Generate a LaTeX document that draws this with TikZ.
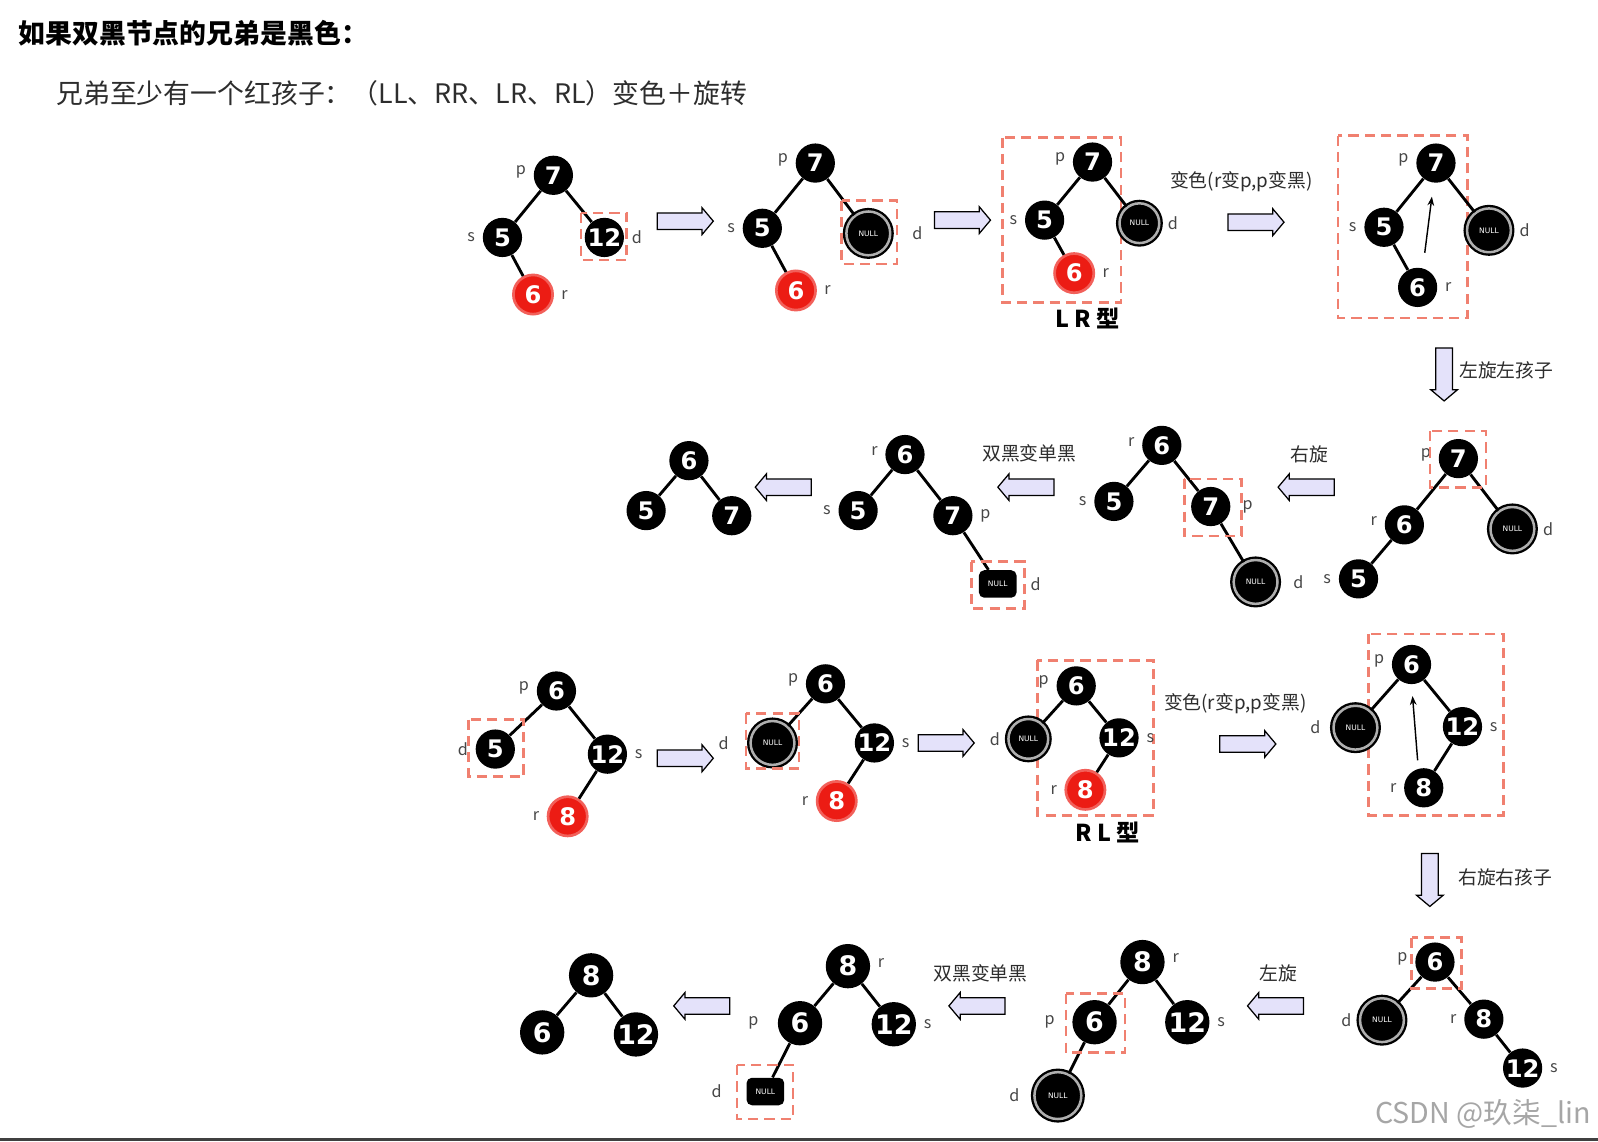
\documentclass[tikz,border=0pt]{standalone}
\usepackage{fontspec}
\setmainfont{Noto Sans CJK SC}
\newfontfamily\numfont{DejaVu Sans}
\usetikzlibrary{arrows.meta, shapes.arrows}
\definecolor{nodered}{RGB}{236,28,20}
\definecolor{boxred}{RGB}{240,128,112}
\definecolor{arrowfill}{RGB}{228,226,250}
\definecolor{labgray}{RGB}{70,70,70}
\definecolor{textgray}{RGB}{45,45,45}
\definecolor{nullring}{RGB}{175,175,175}

\tikzset{
  bn/.style={circle, fill=black, text=white, inner sep=0pt, minimum size=0.77cm,
    font=\numfont\bfseries\fontsize{13.5}{13.5}\selectfont},
  bigbn/.style={bn, minimum size=0.87cm, font=\numfont\bfseries\fontsize{15}{15}\selectfont},
  rn/.style={bn, fill=nodered, draw=nodered!70, line width=1.5pt},
  nulln/.style={circle, fill=black, draw=black, double=nullring, double distance=1.4pt,
    line width=1.3pt, inner sep=0pt, minimum size=0.86cm, text=white,
    font=\numfont\fontsize{4.2}{4.2}\selectfont},
  nullsq/.style={rectangle, rounded corners=3pt, fill=black, inner sep=0pt,
    minimum width=0.74cm, minimum height=0.54cm, text=white,
    font=\numfont\fontsize{4.2}{4.2}\selectfont},
  lab/.style={font=\fontsize{9}{9}\selectfont, text=labgray, inner sep=1.5pt, label distance=2.5pt},
  labup/.style={lab, yshift=2pt},
  edge/.style={line width=1.6pt},
  dbox/.style={draw=boxred, line width=1.5pt, dash pattern=on 0.2cm off 0.12cm},
  blkarrow/.style={single arrow, draw=black, fill=arrowfill, line width=0.7pt,
    minimum height=1.1cm, inner sep=0.15cm, single arrow head extend=0.1cm,
    single arrow tip angle=100},
  note/.style={font=\fontsize{10.5}{11}\selectfont, text=textgray},
}

\begin{document}
\begin{tikzpicture}[x=0.02cm, y=-0.02cm]
  \fill[white] (0,0) rectangle (1568,1120);
  \useasboundingbox (0,0) rectangle (1568,1120);

  \node[anchor=west, inner sep=0pt, font=\bfseries\fontsize{15}{16}\selectfont] (title) at (18,33) {如果双黑节点的兄弟是黑色：};
  \node[anchor=west, inner sep=0pt, text=textgray, font=\fontsize{15}{16}\selectfont] (subtitle) at (55,92) {兄弟至少有一个红孩子：（LL、RR、LR、RL）变色＋旋转};

  % LR case, start
  \node[bn, label={[labup]180:p}] (a7) at (543,172) {7};
  \node[bn, label={[lab]180:s}] (a5) at (493,233) {5};
  \node[rn, label={[lab]0:r}] (a6) at (523,289) {6};
  \node[bn, label={[lab]0:d}] (a12) at (593,233) {12};
  \draw[edge] (a7) -- (a5);
  \draw[edge] (a5) -- (a6);
  \draw[edge] (a7) -- (a12);
  \draw[dbox] (570,209) rectangle (615,255);
  \node[blkarrow] (ar1) at (669,217) {};

  % d deleted
  \node[bn, label={[labup]180:p}] (b7) at (800,160) {7};
  \node[bn, label={[lab]180:s}] (b5) at (748,224) {5};
  \node[rn, label={[lab]0:r}] (b6) at (781,285) {6};
  \node[nulln, label={[lab, label distance=10pt]0:d}] (bnl) at (852,229) {NULL};
  \draw[edge] (b7) -- (b5);
  \draw[edge] (b5) -- (b6);
  \draw[edge] (b7) -- (bnl);
  \draw[dbox] (826,197) rectangle (880,259);
  \node[blkarrow] (ar2) at (941,216) {};

  % LR type
  \draw[dbox] (984,135) rectangle (1100,297);
  \node[bn, label={[labup]180:p}] (c7) at (1072,159) {7};
  \node[bn, label={[lab]180:s}] (c5) at (1025,216) {5};
  \node[rn, label={[lab]0:r}] (c6) at (1054,268) {6};
  \node[nulln, minimum size=0.78cm, label={[lab]0:d}] (cnl) at (1118,219) {NULL};
  \draw[edge] (c7) -- (c5);
  \draw[edge] (c5) -- (c6);
  \draw[edge] (c7) -- (cnl);
  \node[font=\bfseries\fontsize{13}{13}\selectfont] (lrtype) at (1067,312) {L R 型};
  \node[note] (recolor1) at (1218,178) {变色(r变p,p变黑)};
  \node[blkarrow] (ar3) at (1229,218) {};

  % after recolor
  \draw[dbox] (1313,133) rectangle (1440,312);
  \node[bn, label={[labup]180:p}] (d7) at (1409,160) {7};
  \node[bn, label={[lab]180:s}] (d5) at (1358,223) {5};
  \node[bn, label={[lab]0:r}] (d6) at (1391,282) {6};
  \node[nulln, label={[lab]0:d}] (dnl) at (1461,226) {NULL};
  \draw[edge] (d7) -- (d5);
  \draw[edge] (d5) -- (d6);
  \draw[edge] (d7) -- (dnl);
  \coordinate (up1s) at (1398,248);
  \coordinate (up1e) at (1405,193);
  \draw[-{Stealth[length=5pt]}, line width=0.8pt] (up1s) -- (up1e);
  \node[blkarrow, shape border rotate=270, minimum height=1.04cm] (ar4) at (1417,364) {};
  \node[note] (rotl1) at (1478,363) {左旋左孩子};

  % row 2, right to left
  \node[bn, label={[labup]180:p}] (e7) at (1431,450) {7};
  \node[bn, label={[labup]180:r}] (e6) at (1378,515) {6};
  \node[bn, label={[lab]180:s}] (e5) at (1333,568) {5};
  \node[nulln, label={[lab]0:d}] (enl) at (1484,519) {NULL};
  \draw[edge] (e7) -- (e6);
  \draw[edge] (e6) -- (e5);
  \draw[edge] (e7) -- (enl);
  \draw[dbox] (1403,423) rectangle (1458,478);
  \node[blkarrow, shape border rotate=180] (ar5) at (1285,478) {};
  \node[note] (rotr1) at (1285,446) {右旋};

  \node[bn, label={[labup]180:r}] (f6) at (1140,437) {6};
  \node[bn, label={[lab]180:s}] (f5) at (1093,492) {5};
  \node[bn, label={[lab, label distance=5pt]0:p}] (f7) at (1188,497) {7};
  \node[nulln, label={[lab, label distance=6.5pt]0:d}] (fnl) at (1232,571) {NULL};
  \draw[edge] (f6) -- (f5);
  \draw[edge] (f6) -- (f7);
  \draw[edge] (f7) -- (fnl);
  \draw[dbox] (1162,470) rectangle (1218,526);
  \node[blkarrow, shape border rotate=180] (ar6) at (1010,478) {};
  \node[note] (single1) at (1010,445) {双黑变单黑};

  \node[bn, label={[labup]180:r}] (g6) at (888,446) {6};
  \node[bn, label={[lab]180:s}] (g5) at (842,501) {5};
  \node[bn, label={[lab]0:p}] (g7) at (935,506) {7};
  \node[nullsq, label={[lab, label distance=6pt]0:d}] (gnl) at (979,573) {NULL};
  \draw[edge] (g6) -- (g5);
  \draw[edge] (g6) -- (g7);
  \draw[edge] (g7) -- (gnl);
  \draw[dbox] (953,551) rectangle (1005,597);
  \node[blkarrow, shape border rotate=180] (ar7) at (772,478) {};

  \node[bn] (h6) at (676,452) {6};
  \node[bn] (h5) at (634,501) {5};
  \node[bn] (h7) at (718,506) {7};
  \draw[edge] (h6) -- (h5);
  \draw[edge] (h6) -- (h7);

  % RL case, start
  \node[bn, label={[labup]180:p}] (i6) at (546,678) {6};
  \node[bn, label={[lab]180:d}] (i5) at (486,735) {5};
  \node[bn, label={[lab]0:s}] (i12) at (596,740) {12};
  \node[rn, label={[lab]180:r}] (i8) at (557,801) {8};
  \draw[edge] (i6) -- (i5);
  \draw[edge] (i6) -- (i12);
  \draw[edge] (i12) -- (i8);
  \draw[dbox] (460,706) rectangle (514,762);
  \node[blkarrow] (ar8) at (669,744) {};

  \node[bn, label={[labup]180:p}] (j6) at (810,671) {6};
  \node[nulln, label={[lab, label distance=10pt]180:d}] (jnl) at (758,729) {NULL};
  \node[bn, label={[lab]0:s}] (j12) at (858,729) {12};
  \node[rn, label={[lab]180:r}] (j8) at (821,786) {8};
  \draw[edge] (j6) -- (jnl);
  \draw[edge] (j6) -- (j12);
  \draw[edge] (j12) -- (j8);
  \draw[dbox] (732,700) rectangle (784,754);
  \node[blkarrow] (ar9) at (925,729) {};

  % RL type
  \draw[dbox] (1018,648) rectangle (1132,800);
  \node[bn, label={[labup]180:p}] (k6) at (1056,673) {6};
  \node[nulln, minimum size=0.78cm, label={[lab]180:d}] (knl) at (1009,725) {NULL};
  \node[bn, label={[lab]0:s}] (k12) at (1098,724) {12};
  \node[rn, label={[lab]180:r}] (k8) at (1065,775) {8};
  \draw[edge] (k6) -- (knl);
  \draw[edge] (k6) -- (k12);
  \draw[edge] (k12) -- (k8);
  \node[font=\bfseries\fontsize{13}{13}\selectfont] (rltype) at (1087,817) {R L 型};
  \node[note] (recolor2) at (1212,690) {变色(r变p,p变黑)};
  \node[blkarrow] (ar10) at (1221,730) {};

  \draw[dbox] (1343,622) rectangle (1475,800);
  \node[bn, label={[labup]180:p}] (l6) at (1385,652) {6};
  \node[nulln, label={[lab, label distance=5pt]180:d}] (lnl) at (1330,714) {NULL};
  \node[bn, label={[lab]0:s}] (l12) at (1435,713) {12};
  \node[bn, label={[lab]180:r}] (l8) at (1397,773) {8};
  \draw[edge] (l6) -- (lnl);
  \draw[edge] (l6) -- (l12);
  \draw[edge] (l12) -- (l8);
  \coordinate (up2s) at (1391,746);
  \coordinate (up2e) at (1386,683);
  \draw[-{Stealth[length=5pt]}, line width=0.8pt] (up2s) -- (up2e);
  \node[blkarrow, shape border rotate=270, minimum height=1.04cm] (ar11) at (1403,860) {};
  \node[note] (rotr2) at (1477,861) {右旋右孩子};

  % row 4, right to left
  \node[bn, label={[labup]180:p}] (m6) at (1408,944) {6};
  \node[nulln, label={[lab]180:d}] (mnl) at (1356,1001) {NULL};
  \node[bn, label={[lab]180:r}] (m8) at (1456,1000) {8};
  \node[bn, label={[lab]0:s}] (m12) at (1494,1048) {12};
  \draw[edge] (m6) -- (mnl);
  \draw[edge] (m6) -- (m8);
  \draw[edge] (m8) -- (m12);
  \draw[dbox] (1385,920) rectangle (1434,970);
  \node[blkarrow, shape border rotate=180] (ar12) at (1255,987) {};
  \node[note] (rotl2) at (1254,955) {左旋};

  \node[bigbn, label={[labup]0:r}] (n8) at (1121,944) {8};
  \node[bigbn, label={[lab, label distance=8pt]180:p}] (n6) at (1074,1003) {6};
  \node[bigbn, label={[lab]0:s}] (n12) at (1165,1003) {12};
  \node[nulln, minimum size=0.92cm, label={[lab, label distance=6pt]180:d}] (nnl) at (1038,1075) {NULL};
  \draw[edge] (n8) -- (n6);
  \draw[edge] (n8) -- (n12);
  \draw[edge] (n6) -- (nnl);
  \draw[dbox] (1046,975) rectangle (1104,1033);
  \node[blkarrow, shape border rotate=180] (ar13) at (962,987) {};
  \node[note] (single2) at (962,955) {双黑变单黑};

  \node[bigbn, label={[labup]0:r}] (o8) at (832,948) {8};
  \node[bigbn, label={[lab, label distance=9pt]180:p}] (o6) at (785,1004) {6};
  \node[bigbn, label={[lab]0:s}] (o12) at (877,1005) {12};
  \node[nullsq, label={[lab, label distance=12pt]180:d}] (onl) at (751,1071) {NULL};
  \draw[edge] (o8) -- (o6);
  \draw[edge] (o8) -- (o12);
  \draw[edge] (o6) -- (onl);
  \draw[dbox] (723,1045) rectangle (778,1098);
  \node[blkarrow, shape border rotate=180] (ar14) at (692,987) {};

  \node[bigbn] (q8) at (580,957) {8};
  \node[bigbn] (q6) at (532,1013) {6};
  \node[bigbn] (q12) at (624,1015) {12};
  \draw[edge] (q8) -- (q6);
  \draw[edge] (q8) -- (q12);

  \node[text=black!35, font=\fontsize{16}{16}\selectfont] (mark) at (1455,1093) {CSDN @玖柒\_lin};
  \draw[line width=1.7pt, black!75] (0,1118) -- (1568,1118);
\end{tikzpicture}
\end{document}
